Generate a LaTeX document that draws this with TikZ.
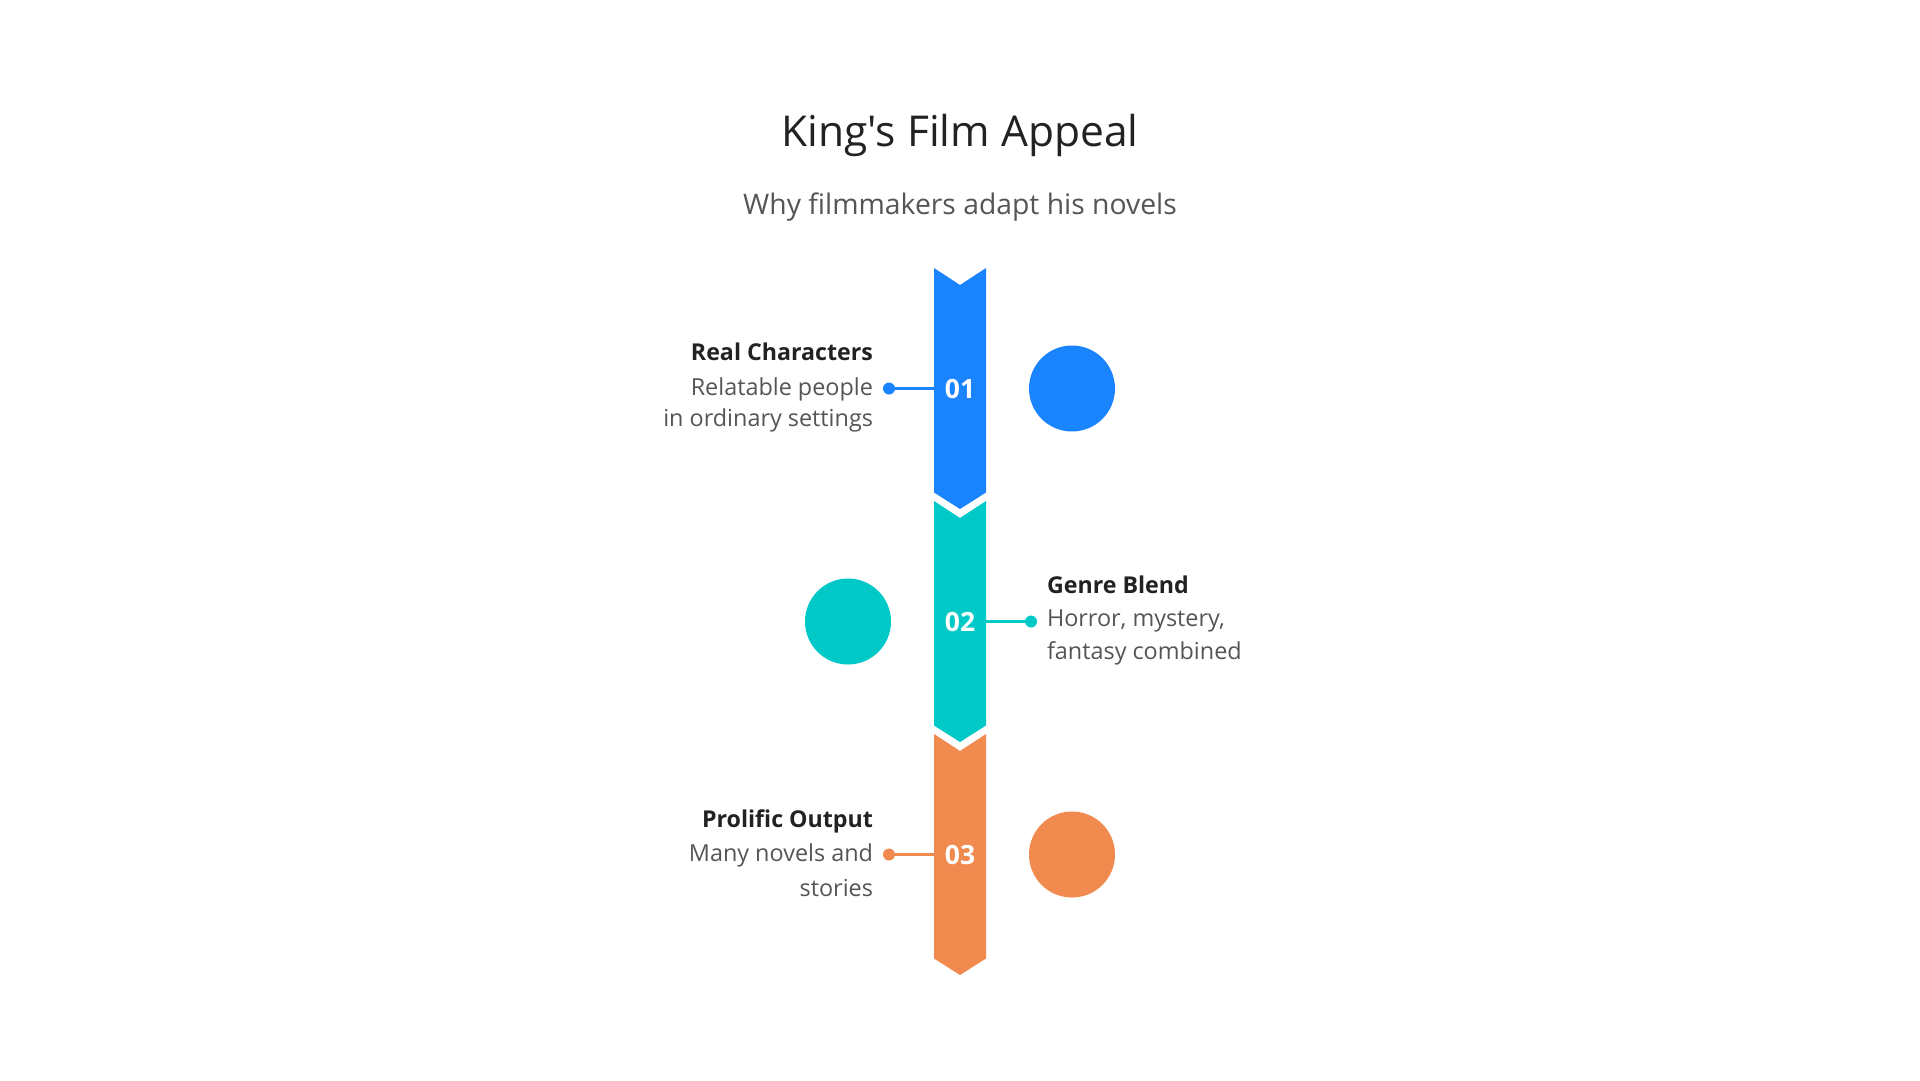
\documentclass[tikz,border=0pt]{standalone}
\usepackage{fontspec}
\setmainfont{Open Sans}
\newfontfamily\basefont{Open Sans}
\definecolor{cblue}{HTML}{1A84FF}
\definecolor{cteal}{HTML}{00C9C8}
\definecolor{corange}{HTML}{F08A4F}
\definecolor{ink}{HTML}{222222}
\definecolor{soft}{HTML}{555555}
\begin{document}
\begin{tikzpicture}[x=1pt,y=-1pt,
  every node/.style={inner sep=0pt, outer sep=0pt},
  maintitle/.style={font=\basefont\fontsize{42.5}{48}\selectfont, text=ink},
  subtitle/.style={font=\basefont\fontsize{28.3}{32}\selectfont, text=soft},
  num/.style={font=\basefont\fontsize{26.5}{30}\selectfont\bfseries, text=white},
  itemtitle/.style={font=\basefont\fontsize{23.2}{27}\selectfont\bfseries, text=ink},
  desc/.style={font=\basefont\fontsize{23.4}{27}\selectfont, text=soft},
  bigdot/.style={circle, minimum size=86pt},
  smalldot/.style={circle, minimum size=12pt},
  link/.style={line width=3pt}
]
\useasboundingbox[fill=white] (0,0) rectangle (1920,1080);

% titles
\node[maintitle, anchor=base] (title) at (960,146.7) {King's Film Appeal};
\node[subtitle, anchor=base] (sub) at (960,214) {Why filmmakers adapt his novels};

% chevron segments
\newcommand{\chevseg}[2]{%
  \fill[#2] (934,#1) -- (960,#1+17) -- (986,#1) -- (986,#1+224.5)
    -- (960,#1+241) -- (934,#1+224.5) -- cycle;}
\chevseg{268}{cblue}
\chevseg{501}{cteal}
\chevseg{734}{corange}

% numbers
\node[num] (n1) at (960,389.5) {01};
\node[num] (n2) at (960,622.5) {02};
\node[num] (n3) at (960,855.5) {03};

% strip edges
\coordinate (s1) at (934,388.5);
\coordinate (s2) at (986,621.5);
\coordinate (s3) at (934,854.5);

% small dots and links
\node[smalldot, fill=cblue] (d1) at (889,388.5) {};
\node[smalldot, fill=cteal] (d2) at (1031,621.5) {};
\node[smalldot, fill=corange] (d3) at (889,854.5) {};
\draw[link, cblue] (d1.center) -- (s1);
\draw[link, cteal] (s2) -- (d2.center);
\draw[link, corange] (d3.center) -- (s3);

% big circles
\node[bigdot, fill=cblue] (c1) at (1072,388.5) {};
\node[bigdot, fill=cteal] (c2) at (848,621.5) {};
\node[bigdot, fill=corange] (c3) at (1072,854.5) {};

% item 1
\node[itemtitle, anchor=base east] (t1) at (873,360) {Real Characters};
\node[desc, anchor=base east] (t1a) at (873,395.7) {Relatable people};
\node[desc, anchor=base east] (t1b) at (873,426.5) {in ordinary settings};

% item 2
\node[itemtitle, anchor=base west] (t2) at (1047,593.3) {Genre Blend};
\node[desc, anchor=base west] (t2a) at (1047,626.7) {Horror, mystery,};
\node[desc, anchor=base west] (t2b) at (1047,659.3) {fantasy combined};

% item 3
\node[itemtitle, anchor=base east] (t3) at (873,827.7) {Prolific Output};
\node[desc, anchor=base east] (t3a) at (873,861.7) {Many novels and};
\node[desc, anchor=base east] (t3b) at (873,896) {stories};
\end{tikzpicture}
\end{document}
